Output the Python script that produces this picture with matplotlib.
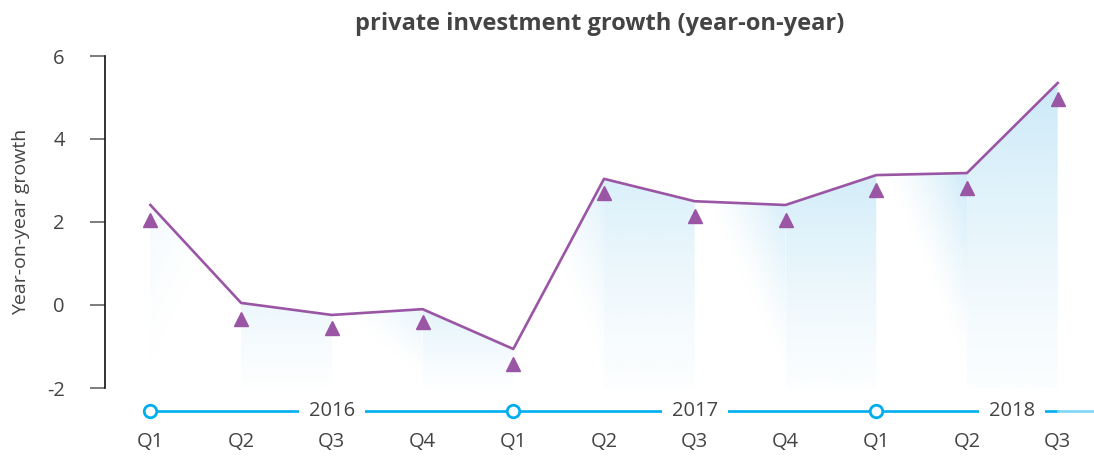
import numpy as np
import matplotlib.pyplot as plt
from matplotlib.patches import Polygon

plt.rcParams['font.family'] = ['Open Sans', 'DejaVu Sans']

# data
quarters = ['Q1', 'Q2', 'Q3', 'Q4', 'Q1', 'Q2', 'Q3', 'Q4', 'Q1', 'Q2', 'Q3']
years = ['2016', '2017', '2018']
year_label_pos = [2, 6, 9.5]
year_start_pos = [0, 4, 8]
growth_line = [2.41, 0.05, -0.24, -0.10, -1.06, 3.04, 2.50, 2.41, 3.13, 3.18, 5.35]
growth_marks = [2.05, -0.34, -0.55, -0.41, -1.42, 2.70, 2.14, 2.05, 2.77, 2.82, 4.96]

purple = '#9a55a5'
blue = '#00aeef'
text_col = '#444444'
fill_rgb = np.array([0.80, 0.92, 0.975])

fig = plt.figure(figsize=(10.94, 4.57), dpi=100)
ax = fig.add_axes([105 / 1094, 1 - 388 / 457, 1 - 105 / 1094, (388 - 56) / 457])

x = np.arange(len(growth_line))
ymin, ymax = -2, 6
ax.set_xlim(-0.5, 10.4)
ax.set_ylim(ymin, ymax)

# gradient fills under the line, one column per quarter interval
nseg = len(growth_line) - 1
for i in range(nseg):
    v0, v1 = growth_line[i], growth_line[i + 1]
    top = max(v0, v1)
    gx = np.linspace(0, 1, 60)
    gy = np.linspace(ymin, top, 120)
    X, Y = np.meshgrid(gx, gy)
    strength = 0.25 + 0.75 * (i / (nseg - 1)) ** 0.8
    if i % 2 == 1:
        t = (Y - ymin) / (top - ymin)
        alpha = strength * (0.08 + 0.92 * t ** 1.3)
    else:
        h = top - ymin
        xs = X if v0 > v1 + 0.5 else 1 - X
        t = (xs + (top - Y) / h) / 2
        alpha = strength * np.clip(1 - t / 0.45, 0, 1) ** 1.3
    img = np.zeros(X.shape + (4,))
    img[..., :3] = fill_rgb
    img[..., 3] = alpha
    poly = Polygon([(i, ymin), (i, v0), (i + 1, v1), (i + 1, ymin)],
                   closed=True, facecolor='none', edgecolor='none')
    ax.add_patch(poly)
    im = ax.imshow(img, extent=[i, i + 1, ymin, top], origin='lower',
                   aspect='auto', interpolation='bilinear', zorder=1)
    im.set_clip_path(poly)

ax.plot(x, growth_line, color=purple, lw=1.9, zorder=3)
ax.plot(x, growth_marks, ls='none', marker='^', ms=9.5, color=purple,
        mec=purple, zorder=4)

# timeline under the chart
ty = -2.55
ax.plot([0, 10], [ty, ty], color=blue, lw=1.9, clip_on=False, zorder=2)
ax.plot([10, 10.4], [ty, ty], color='#7fd5f6', lw=1.9, clip_on=False, zorder=2)
ax.plot(year_start_pos, [ty] * len(year_start_pos), ls='none', marker='o',
        ms=9, mfc='white', mec=blue, mew=2, clip_on=False, zorder=3)
for pos, yr in zip(year_label_pos, years):
    ax.text(pos, ty, yr, ha='center', va='center', fontsize=14.5, color=text_col,
            clip_on=False, zorder=4,
            bbox=dict(boxstyle='square,pad=0.5', fc='white', ec='none'))

ax.set_xticks(x)
ax.set_xticklabels(quarters, fontsize=14.5, color=text_col)
ax.tick_params(axis='x', length=0, pad=32)
ax.set_yticks([-2, 0, 2, 4, 6])
ax.set_yticklabels(['-2', '0', '2', '4', '6'], fontsize=14.5, color=text_col)
ax.tick_params(axis='y', length=11, width=1.2, color='#666666', pad=18)
ax.set_ylabel('Year-on-year growth', fontsize=14, color=text_col, labelpad=12)

for s in ['top', 'right', 'bottom']:
    ax.spines[s].set_visible(False)
ax.spines['left'].set_color('#111111')
ax.spines['left'].set_linewidth(1.2)

ax.set_title('private investment growth (year-on-year)', fontsize=17,
             fontweight='bold', color=text_col, pad=19)

fig.savefig('out.png', dpi=100)
